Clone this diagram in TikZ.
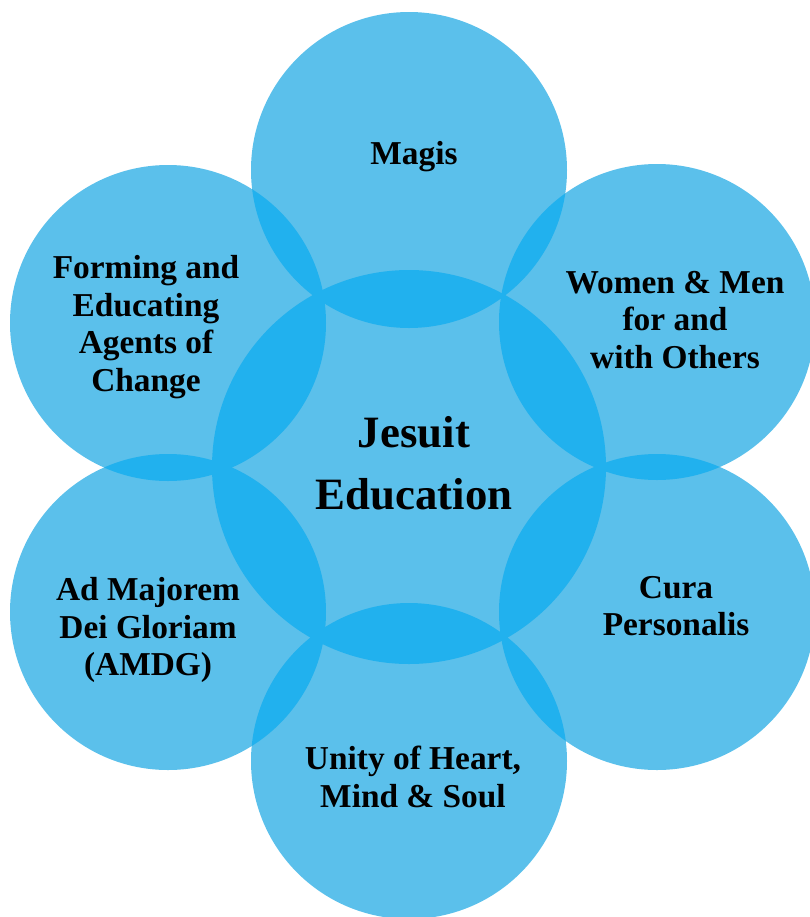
\documentclass[tikz,border=0pt]{standalone}
\usepackage{fontspec}
\setmainfont{Liberation Serif}
\usepackage{xcolor}
\usetikzlibrary{positioning}

\definecolor{ringblue}{RGB}{91,192,235}
\definecolor{lensblue}{RGB}{33,177,238}

\begin{document}
\begin{tikzpicture}[x=0.02cm, y=-0.02cm,
    petal/.style={fill=ringblue},
    lens/.style={fill=lensblue},
    theme/.style={align=center, inner sep=0pt, font=\bfseries\fontsize{19}{21.5}\selectfont},
    hub/.style={align=center, inner sep=0pt, font=\bfseries\fontsize{25.5}{35}\selectfont}]
    \useasboundingbox (0,0) rectangle (810,917);
    \clip (0,0) rectangle (810,917);

    % centres of the circles
    \coordinate (C)  at (409,467);
    \coordinate (N)  at (409,170);
    \coordinate (NE) at (657,322);
    \coordinate (SE) at (657,612);
    \coordinate (S)  at (409,761);
    \coordinate (SW) at (168,612);
    \coordinate (NW) at (168,323);

    % plain discs
    \foreach \p in {N,NE,SE,S,SW,NW}
        \fill[petal] (\p) circle (158);
    \fill[petal] (C) circle (197);

    % darker lenses where two discs meet
    \foreach \p in {N,NE,SE,S,SW,NW} {
        \begin{scope}
            \clip (C) circle (197);
            \fill[lens] (\p) circle (158);
        \end{scope}
    }
    \foreach \p/\q in {N/NE, NE/SE, SE/S, S/SW, SW/NW, NW/N} {
        \begin{scope}
            \clip (\p) circle (158);
            \fill[lens] (\q) circle (158);
        \end{scope}
    }

    % labels
    \node[hub]   (jesuit) at (414,463) {Jesuit\\Education};
    \node[theme] (magis)  at (414,157) {Magis};
    \node[theme] (others) at (675,320) {Women \& Men\\for and\\with Others};
    \node[theme] (cura)   at (676,606) {Cura\\Personalis};
    \node[theme] (unity)  at (413,777) {Unity of Heart,\\Mind \& Soul};
    \node[theme] (amdg)   at (148,630) {Ad Majorem\\Dei Gloriam\\(AMDG)};
    \node[theme] (agents) at (146,327) {Forming and\\Educating\\Agents of\\Change};
\end{tikzpicture}
\end{document}
